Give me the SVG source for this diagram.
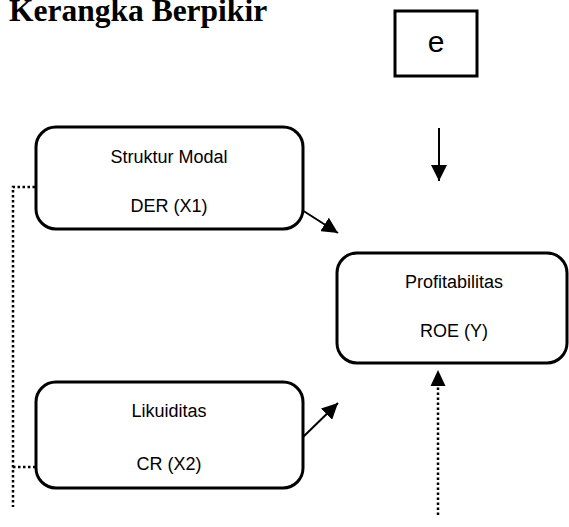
<svg xmlns="http://www.w3.org/2000/svg" width="569" height="527" viewBox="0 0 569 527">
<style>
.box{fill:#fff;stroke:#000;stroke-width:3}
.t{font-family:"Liberation Sans",Arial,sans-serif;font-size:18px;text-anchor:middle;fill:#000}
.big{font-size:30px}
.ln{stroke:#000;stroke-width:2;fill:none}
.dot{stroke:#000;stroke-width:2.5;fill:none;stroke-dasharray:2.5 2.5}
</style>
<defs>
<marker id="ahb" viewBox="0 0 10 10" refX="10" refY="5" markerWidth="16" markerHeight="16" markerUnits="userSpaceOnUse" orient="auto">
<path d="M0,0 L10,5 L0,10 z" fill="#000"/>
</marker>
</defs>
<text x="9" y="21" font-family="'Liberation Serif','Times New Roman',serif" font-size="31.5" font-weight="bold">Kerangka Berpikir</text>
<g id="connectors">
<line class="ln" x1="439" y1="128" x2="439" y2="181" marker-end="url(#ahb)"/>
<line class="ln" x1="302" y1="210" x2="338" y2="233" marker-end="url(#ahb)"/>
<line class="ln" x1="302" y1="438" x2="338" y2="403" marker-end="url(#ahb)"/>
<polyline class="dot" points="35,187 13,187 13,507"/>
<line class="dot" x1="13" y1="467" x2="35" y2="467"/>
<line class="dot" x1="438" y1="515" x2="438" y2="386"/>
<path d="M438,370 L445.5,386 L430.5,386 z" fill="#000"/>
</g>
<g id="node-e">
<rect class="box" x="395" y="11" width="82" height="65"/>
<text class="t big" x="436" y="52">e</text>
</g>
<g id="node-struktur">
<rect class="box" x="36" y="127" width="267" height="102" rx="20"/>
<text class="t" x="169" y="163">Struktur Modal</text>
<text class="t" x="169" y="212">DER (X1)</text>
</g>
<g id="node-likuiditas">
<rect class="box" x="36" y="382" width="267" height="106" rx="20"/>
<text class="t" x="169" y="417">Likuiditas</text>
<text class="t" x="169" y="470">CR (X2)</text>
</g>
<g id="node-profit">
<rect class="box" x="337" y="253" width="230" height="110" rx="20"/>
<text class="t" x="454" y="288">Profitabilitas</text>
<text class="t" x="454" y="337">ROE (Y)</text>
</g>
</svg>
